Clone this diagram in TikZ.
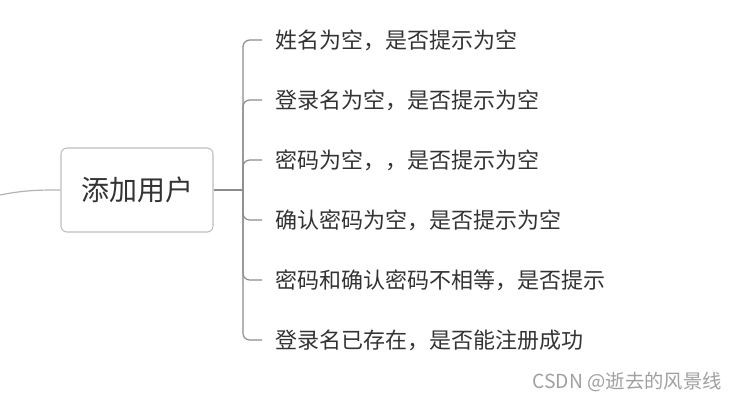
\documentclass[tikz,border=0pt]{standalone}
\usepackage{fontspec}
\setmainfont{Noto Sans CJK SC}
\usetikzlibrary{positioning}
\definecolor{textgray}{HTML}{333333}
\definecolor{linegray}{HTML}{8C8C8C}
\definecolor{boxgray}{HTML}{BDBDBD}
\definecolor{markgray}{HTML}{A0A0A0}

\begin{document}
\begin{tikzpicture}[x=0.75pt,y=-0.75pt]
\tikzset{root/.style={draw=boxgray,line width=0.8pt,rounded corners=4.5pt,minimum width=114pt,minimum height=63pt,text=textgray,font=\fontsize{21pt}{24pt}\selectfont},
leaf/.style={anchor=west,inner xsep=9.75pt,inner ysep=0pt,text=textgray,font=\fontsize{16.5pt}{19pt}\selectfont},
branch/.style={draw=linegray,line width=0.9pt,rounded corners=5pt}}
\useasboundingbox (0,0) rectangle (739,401);

\node[root](user) at (137,190) {添加用户};
\coordinate (in) at (0,195);
\coordinate (hub) at (243,190);

\node[leaf](c1) at (262,40) {姓名为空，是否提示为空};
\node[leaf](c2) at (262,100) {登录名为空，是否提示为空};
\node[leaf](c3) at (262,160) {密码为空，，是否提示为空};
\node[leaf](c4) at (262,220) {确认密码为空，是否提示为空};
\node[leaf](c5) at (262,280) {密码和确认密码不相等，是否提示};
\node[leaf](c6) at (262,340) {登录名已存在，是否能注册成功};

\draw[draw=markgray!80,line width=0.9pt] (in) .. controls (25,190) and (40,190) .. (user.west);
\draw[draw=linegray,line width=0.9pt] (user.east) -- (hub);

\draw[branch] (hub) |- (c1.west);
\draw[branch] (hub) |- (c2.west);
\draw[branch] (hub) |- (c3.west);
\draw[branch] (hub) |- (c4.west);
\draw[branch] (hub) |- (c5.west);
\draw[branch] (hub) |- (c6.west);

\node[anchor=east,inner sep=0pt,text=markgray,font=\fontsize{14.5pt}{16pt}\selectfont](mark) at (722,382) {CSDN @逝去的风景线};

\end{tikzpicture}
\end{document}
